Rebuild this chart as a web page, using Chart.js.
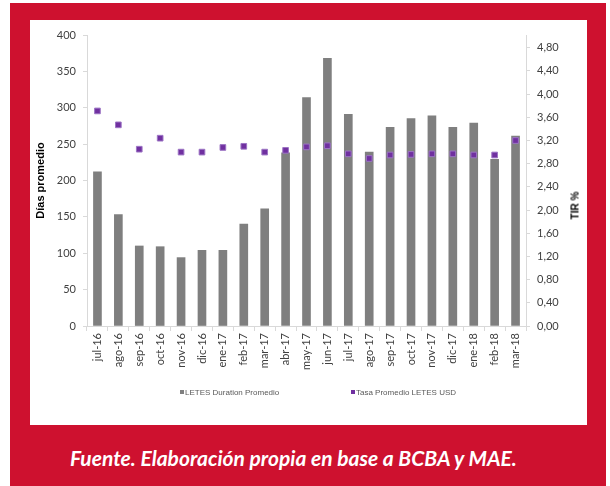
<!DOCTYPE html>
<html>
<head>
<meta charset="utf-8">
<script src="https://cdn.jsdelivr.net/npm/chart.js@4.4.1/dist/chart.umd.min.js"></script>
<style>
  body { margin: 0; background: #fff; }
  #frame { position: absolute; left: 10px; top: 3px; width: 596px; height: 483px; background: #ce112f; }
  #inner { position: absolute; left: 30px; top: 20px; width: 557px; height: 405px; background: #fff; }
  #showChart { position: absolute; left: 0; top: 0; }
  .leg { position: absolute; top: 388px; font: 8px "Liberation Sans", Arial, sans-serif; color: #595959; white-space: nowrap; }
  .leg i { display: inline-block; width: 4px; height: 4px; margin-right: 1px; vertical-align: 1px; }
  #tir { position: absolute; left: 560px; top: 200px; width: 30px; font: bold 10px "Liberation Sans", Arial, sans-serif; color: #000;
         transform: rotate(-90deg); text-align: center; white-space: nowrap; }
  #fuente { position: absolute; left: 70px; top: 445px; font: italic bold 21px Lato, "Open Sans", sans-serif; color: #fff; white-space: nowrap; }
</style>
</head>
<body>
<div id="frame"></div>
<div id="inner"><canvas id="showChart" width="557" height="405"></canvas></div>
<div class="leg" style="left:180px"><i style="background:#7f7f7f"></i>LETES Duration Promedio</div>
<div class="leg" style="left:351px"><i style="background:#7030a0"></i>Tasa Promedio LETES USD</div>
<div id="tir">TIR %</div>
<div id="fuente">Fuente. Elaboración propia en base a BCBA y MAE.</div>
<script>
var meses = ["jul-16", "ago-16", "sep-16", "oct-16", "nov-16", "dic-16", "ene-17", "feb-17", "mar-17", "abr-17",
  "may-17", "jun-17", "jul-17", "ago-17", "sep-17", "oct-17", "nov-17", "dic-17", "ene-18", "feb-18", "mar-18"];

var durationDias = [212, 153, 110, 109, 94, 104, 104, 140, 161, 238,
  314, 368, 291, 239, 273, 285, 289, 273, 279, 229, 261];

var tasaUsd = [3.71, 3.47, 3.05, 3.24, 3.00, 3.00, 3.08, 3.10, 3.00, 3.03,
  3.09, 3.11, 2.97, 2.89, 2.95, 2.96, 2.97, 2.97, 2.95, 2.95, 3.20];

var tirTicks = [0, 0.4, 0.8, 1.2, 1.6, 2.0, 2.4, 2.8, 3.2, 3.6, 4.0, 4.4, 4.8];

var tickFont = { family: "Lato, 'Open Sans', sans-serif", size: 11 };
var axisGray = "#d9d9d9";

var marksCanvas = document.getElementById("showChart");

var chart = new Chart(marksCanvas, {
  type: "bar",
  data: {
    labels: meses,
    datasets: [{
      type: "line",
      label: "Tasa Promedio LETES USD",
      data: tasaUsd,
      yAxisID: "y2",
      showLine: false,
      pointStyle: "rect",
      pointRadius: 4,
      pointBackgroundColor: "#7030a0",
      pointBorderColor: "#9c74c4",
      pointBorderWidth: 1,
      order: 0
    }, {
      label: "LETES Duration Promedio",
      data: durationDias,
      yAxisID: "y",
      backgroundColor: "#7f7f7f",
      barThickness: 8,
      order: 1
    }]
  },
  options: {
    animation: false,
    responsive: false,
    layout: { padding: { top: 15, bottom: 45, left: 0, right: 0 } },
    plugins: { legend: { display: false }, tooltip: { enabled: false } },
    scales: {
      x: {
        grid: { drawOnChartArea: false, tickLength: 5, color: axisGray },
        border: { color: axisGray },
        ticks: { font: tickFont, color: "#404040", minRotation: 90, maxRotation: 90, padding: 2 },
        afterFit: function (s) { s.height = 54; }
      },
      y: {
        position: "left",
        min: 0, max: 400,
        ticks: { stepSize: 50, font: tickFont, color: "#404040", padding: 7 },
        grid: { drawOnChartArea: false, tickLength: 4, color: axisGray },
        border: { color: axisGray },
        title: { display: true, text: "Días promedio", color: "#000",
          font: { family: "'Liberation Sans', Arial, sans-serif", size: 11, weight: "bold" }, padding: { top: 4, bottom: 0 } },
        afterFit: function (s) { s.width = 57; }
      },
      y2: {
        position: "right",
        min: 0, max: 5.02,
        afterBuildTicks: function (s) { s.ticks = tirTicks.map(function (v) { return { value: v }; }); },
        ticks: { font: tickFont, color: "#404040", padding: 7,
          callback: function (v) { return v.toFixed(2).replace(".", ","); } },
        grid: { drawOnChartArea: false, tickLength: 4, color: axisGray },
        border: { color: axisGray },
        afterFit: function (s) { s.width = 61; }
      }
    }
  }
});
</script>
</body>
</html>
